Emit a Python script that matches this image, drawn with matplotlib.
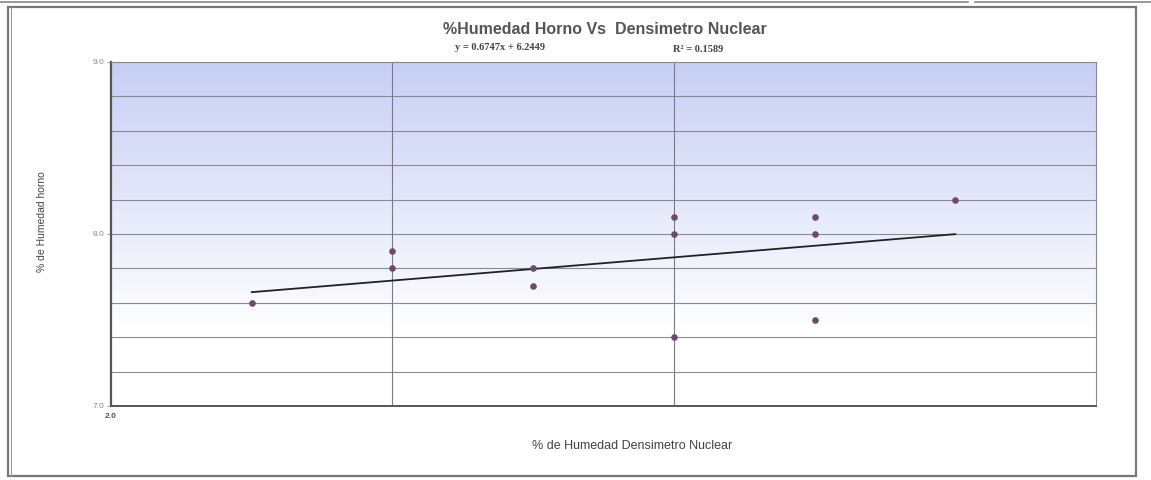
import numpy as np
import matplotlib.pyplot as plt
from matplotlib.patches import Rectangle
from matplotlib.lines import Line2D

# datos
x_vals = [2.1, 2.2, 2.2, 2.3, 2.3, 2.4, 2.4, 2.4, 2.5, 2.5, 2.5, 2.6]
y_vals = [7.6, 7.9, 7.8, 7.8, 7.7, 8.1, 8.0, 7.4, 8.1, 8.0, 7.5, 8.2]
slope = 0.6747
intercept = 6.2449
r2 = 0.1589
y_ticks = [7.0, 8.0, 9.0]
y_tick_labels = ['7.0', '8.0', '9.0']
x_grid = [2.2, 2.4]

W, H = 1151, 480
fig = plt.figure(figsize=(W / 100, H / 100), dpi=100)
plt.rcParams['font.family'] = ['Liberation Sans', 'DejaVu Sans']

# marco del documento
fig.add_artist(Rectangle((8 / W, 4 / H), 1128 / W, 469 / H, transform=fig.transFigure,
                         fill=False, edgecolor='#777777', lw=1.6))
fig.add_artist(Line2D([11 / W, 11 / W], [4 / H, 473 / H], transform=fig.transFigure,
                      color='#999999', lw=0.8))
fig.add_artist(Line2D([0, 968 / W], [1 - 2 / H, 1 - 2 / H], transform=fig.transFigure,
                      color='#888888', lw=1.2))
fig.add_artist(Line2D([975 / W, 1], [1 - 2 / H, 1 - 2 / H], transform=fig.transFigure,
                      color='#888888', lw=1.2))

ax = fig.add_axes([111 / W, (H - 406) / H, (1096 - 111) / W, (406 - 62) / H])
ax.set_xlim(2.0, 2.7)
ax.set_ylim(7.0, 9.0)

# fondo degradado azul -> blanco
grad = np.linspace(0, 1, 256).reshape(-1, 1)
top = np.array([0.78, 0.81, 0.96])
alpha = np.clip((grad - 0.22) / 0.78, 0, 1)
img = np.ones((256, 1, 3)) * (1 - alpha[..., None]) + top * alpha[..., None]
ax.imshow(img, aspect='auto', extent=[0, 1, 0, 1], origin='lower',
          transform=ax.transAxes, zorder=0)

for yv in np.arange(7.2, 8.9, 0.2):
    ax.axhline(yv, color='#8a8a95', lw=0.8, zorder=1)
for xv in x_grid:
    ax.axvline(xv, color='#7a7a85', lw=0.8, zorder=1)

xs = np.array([min(x_vals), max(x_vals)])
ax.plot(xs, slope * xs + intercept, color='#222222', lw=1.3, zorder=2)
ax.scatter(x_vals, y_vals, s=14, color='#6b4a6e', zorder=3)

ax.set_yticks(y_ticks)
ax.set_yticklabels(y_tick_labels, fontsize=6, color='#888888')
ax.set_xticks([2.0])
ax.set_xticklabels(['2.0'], fontsize=6, color='#555555', fontweight='bold')
ax.tick_params(axis='y', length=3, color='#aaaaaa', pad=2)
ax.tick_params(axis='x', length=0, pad=5)

ax.spines['left'].set_color('#555555')
ax.spines['left'].set_linewidth(1.6)
ax.spines['bottom'].set_color('#555555')
ax.spines['bottom'].set_linewidth(1.4)
ax.spines['right'].set_color('#888888')
ax.spines['top'].set_color('#888888')

fig.text(605 / W, 1 - 30 / H, '%Humedad Horno Vs  Densimetro Nuclear', ha='center',
         va='center', fontsize=11.5, fontweight='bold', color='#555555')
fig.text(500 / W, 1 - 47 / H, 'y = %.4fx + %.4f' % (slope, intercept), ha='center',
         va='center', fontsize=7.5, fontweight='bold', color='#444444',
         family=['Liberation Serif', 'DejaVu Serif'])
fig.text(698 / W, 1 - 49 / H, 'R² = %.4f' % r2, ha='center', va='center',
         fontsize=7.5, fontweight='bold', color='#444444',
         family=['Liberation Serif', 'DejaVu Serif'])
fig.text(632 / W, 1 - 446 / H, '% de Humedad Densimetro Nuclear', ha='center',
         va='center', fontsize=9, color='#444444')
fig.text(42 / W, 1 - 222 / H, '% de Humedad horno', ha='center', va='center',
         rotation=90, fontsize=7.5, color='#444444')

fig.savefig('out.png', dpi=100)
